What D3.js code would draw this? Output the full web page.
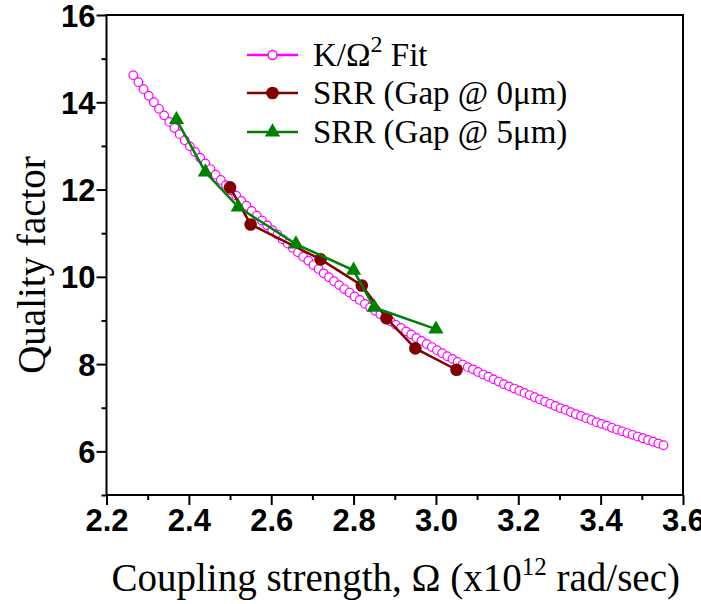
<!DOCTYPE html>
<html>
<head>
<meta charset="utf-8">
<script src="https://cdn.jsdelivr.net/npm/d3@7"></script>
<style>
  html, body { margin: 0; padding: 0; background: #fff; }
  svg { display: block; }
  .tick-label { font-family: "Liberation Sans", Arial, sans-serif; font-weight: bold; font-size: 31px; fill: #000; }
  .serif { font-family: "Liberation Serif", "Times New Roman", serif; fill: #000; }
</style>
</head>
<body>
<svg id="chart" width="701" height="604"></svg>
<script>
// Coupling strength Ω (x10^12 rad/sec) sampled along the K/Ω² fit
const fitOmega = [2.2650, 2.2775, 2.2900, 2.3025, 2.3150, 2.3275, 2.3400, 2.3525, 2.3650, 2.3775,
  2.3900, 2.4025, 2.4150, 2.4275, 2.4400, 2.4525, 2.4650, 2.4775, 2.4900, 2.5025,
  2.5150, 2.5275, 2.5400, 2.5525, 2.5650, 2.5775, 2.5900, 2.6025, 2.6150, 2.6275,
  2.6400, 2.6525, 2.6650, 2.6775, 2.6900, 2.7025, 2.7150, 2.7275, 2.7400, 2.7525,
  2.7650, 2.7775, 2.7900, 2.8025, 2.8150, 2.8275, 2.8400, 2.8525, 2.8650, 2.8775,
  2.8900, 2.9025, 2.9150, 2.9275, 2.9400, 2.9525, 2.9650, 2.9775, 2.9900, 3.0025,
  3.0150, 3.0275, 3.0400, 3.0525, 3.0650, 3.0775, 3.0900, 3.1025, 3.1150, 3.1275,
  3.1400, 3.1525, 3.1650, 3.1775, 3.1900, 3.2025, 3.2150, 3.2275, 3.2400, 3.2525,
  3.2650, 3.2775, 3.2900, 3.3025, 3.3150, 3.3275, 3.3400, 3.3525, 3.3650, 3.3775,
  3.3900, 3.4025, 3.4150, 3.4275, 3.4400, 3.4525, 3.4650, 3.4775, 3.4900, 3.5025,
  3.5150, 3.5275, 3.5400, 3.5525];
// Quality factor of the fit at each Ω above
const fitQ = [14.62, 14.46, 14.30, 14.15, 14.00, 13.85, 13.70, 13.55, 13.41, 13.27,
  13.13, 12.99, 12.86, 12.73, 12.60, 12.47, 12.34, 12.22, 12.10, 11.98,
  11.86, 11.74, 11.63, 11.51, 11.40, 11.29, 11.18, 11.07, 10.97, 10.86,
  10.76, 10.66, 10.56, 10.46, 10.37, 10.27, 10.18, 10.08, 9.99, 9.90,
  9.81, 9.72, 9.64, 9.55, 9.47, 9.38, 9.30, 9.22, 9.14, 9.06,
  8.98, 8.90, 8.83, 8.75, 8.68, 8.60, 8.53, 8.46, 8.39, 8.32,
  8.25, 8.18, 8.12, 8.05, 7.99, 7.93, 7.88, 7.82, 7.76, 7.71,
  7.65, 7.60, 7.54, 7.49, 7.44, 7.39, 7.34, 7.29, 7.24, 7.19,
  7.14, 7.09, 7.04, 6.99, 6.95, 6.90, 6.85, 6.81, 6.76, 6.72,
  6.67, 6.63, 6.59, 6.54, 6.50, 6.46, 6.42, 6.38, 6.34, 6.30,
  6.26, 6.22, 6.18, 6.14];

// SRR, gap 0 µm
const gap0Omega = [2.50, 2.55, 2.72, 2.82, 2.88, 2.95, 3.05];
const gap0Q     = [12.05, 11.20, 10.40, 9.80, 9.05, 8.36, 7.87];

// SRR, gap 5 µm
const gap5Omega = [2.37, 2.44, 2.52, 2.66, 2.80, 2.85, 3.00];
const gap5Q     = [13.60, 12.40, 11.60, 10.75, 10.15, 9.30, 8.80];

const xMajorTicks = [2.2, 2.4, 2.6, 2.8, 3.0, 3.2, 3.4, 3.6];
const xMinorTicks = [2.3, 2.5, 2.7, 2.9, 3.1, 3.3, 3.5];
const yMajorTicks = [6, 8, 10, 12, 14, 16];
const yMinorTicks = [5, 7, 9, 11, 13, 15];

const seriesNames = ["K/\u03A9", "SRR (Gap @ 0\u03BCm)", "SRR (Gap @ 5\u03BCm)"];

const FIT_COLOR = "#ff00ff";
const GAP0_COLOR = "#800000";
const GAP5_COLOR = "#008000";

const svg = d3.select("#chart");
const plot = { left: 106.5, right: 683, top: 15, bottom: 495 };

const x = d3.scaleLinear().domain([2.2, 3.6]).range([plot.left, plot.right]);
const y = d3.scaleLinear().domain([5, 16]).range([plot.bottom, plot.top]);

// Axes: major ticks with labels, minor ticks without
const xAxis = svg.append("g").attr("transform", `translate(0,${plot.bottom})`)
  .call(d3.axisBottom(x).tickValues(xMajorTicks).tickSize(10).tickPadding(4).tickFormat(d3.format(".1f")));
svg.append("g").attr("transform", `translate(0,${plot.bottom})`)
  .call(d3.axisBottom(x).tickValues(xMinorTicks).tickSize(5).tickFormat(""));
const yAxis = svg.append("g").attr("transform", `translate(${plot.left},0)`)
  .call(d3.axisLeft(y).tickValues(yMajorTicks).tickSize(10).tickPadding(1).tickFormat(d3.format("d")));
svg.append("g").attr("transform", `translate(${plot.left},0)`)
  .call(d3.axisLeft(y).tickValues(yMinorTicks).tickSize(5).tickFormat(""));

svg.selectAll(".domain").remove();
svg.selectAll(".tick line").attr("stroke", "#000").attr("stroke-width", 2);
svg.selectAll(".tick text").attr("class", "tick-label");
xAxis.selectAll(".tick text").attr("dy", "0.71em");
yAxis.selectAll(".tick text").attr("dy", "0.36em");

// Plot frame
svg.append("rect")
  .attr("x", plot.left).attr("y", plot.top)
  .attr("width", plot.right - plot.left).attr("height", plot.bottom - plot.top)
  .attr("fill", "none").attr("stroke", "#000").attr("stroke-width", 2);

// Fit curve drawn as open circles
const fitData = fitOmega.map((w, i) => ({ w, q: fitQ[i] }));
svg.append("g").selectAll("circle").data(fitData).join("circle")
  .attr("cx", d => x(d.w)).attr("cy", d => y(d.q)).attr("r", 4.3)
  .attr("fill", "#fff").attr("stroke", FIT_COLOR).attr("stroke-width", 1.2);

const line = d3.line().x(d => x(d.w)).y(d => y(d.q));

// Gap 0 µm series
const gap0 = gap0Omega.map((w, i) => ({ w, q: gap0Q[i] }));
svg.append("path").datum(gap0).attr("d", line)
  .attr("fill", "none").attr("stroke", GAP0_COLOR).attr("stroke-width", 2.5);
svg.append("g").selectAll("circle").data(gap0).join("circle")
  .attr("cx", d => x(d.w)).attr("cy", d => y(d.q)).attr("r", 6.3)
  .attr("fill", GAP0_COLOR);

// Gap 5 µm series
const gap5 = gap5Omega.map((w, i) => ({ w, q: gap5Q[i] }));
svg.append("path").datum(gap5).attr("d", line)
  .attr("fill", "none").attr("stroke", GAP5_COLOR).attr("stroke-width", 2.5);
const tri = d3.symbol().type(d3.symbolTriangle).size(100);
svg.append("g").selectAll("path").data(gap5).join("path")
  .attr("transform", d => `translate(${x(d.w)},${y(d.q)})`)
  .attr("d", tri).attr("fill", GAP5_COLOR);

// Legend
const legend = svg.append("g");
const legX0 = 247, legX1 = 298, legTextX = 313;
const rows = [55, 93, 132];
rows.forEach((ry, i) => {
  const color = [FIT_COLOR, GAP0_COLOR, GAP5_COLOR][i];
  legend.append("line").attr("x1", legX0).attr("x2", legX1).attr("y1", ry).attr("y2", ry)
    .attr("stroke", color).attr("stroke-width", 2.5);
  const cx = (legX0 + legX1) / 2;
  if (i === 0) {
    legend.append("circle").attr("cx", cx).attr("cy", ry).attr("r", 4.5)
      .attr("fill", "#fff").attr("stroke", color).attr("stroke-width", 1.5);
  } else if (i === 1) {
    legend.append("circle").attr("cx", cx).attr("cy", ry).attr("r", 6.3).attr("fill", color);
  } else {
    legend.append("path").attr("transform", `translate(${cx},${ry})`).attr("d", tri).attr("fill", color);
  }
  const t = legend.append("text").attr("class", "serif").attr("x", legTextX).attr("y", ry + 11)
    .style("font-size", "33px");
  if (i === 0) {
    t.append("tspan").text(seriesNames[0]);
    t.append("tspan").attr("dy", -14).style("font-size", "24px").text("2");
    t.append("tspan").attr("dy", 14).text(" Fit");
  } else {
    t.text(seriesNames[i]);
  }
});

// Axis titles
const xt = svg.append("text").attr("class", "serif")
  .attr("x", (plot.left + plot.right) / 2 + 1).attr("y", 591)
  .attr("text-anchor", "middle").style("font-size", "39px");
xt.append("tspan").text("Coupling strength, \u03A9 (x10");
xt.append("tspan").attr("dy", -16).style("font-size", "25px").text("12");
xt.append("tspan").attr("dy", 16).text(" rad/sec)");

svg.append("text").attr("class", "serif")
  .attr("transform", `translate(45,265) rotate(-90)`)
  .attr("text-anchor", "middle").style("font-size", "39px")
  .text("Quality factor");
</script>
</body>
</html>
